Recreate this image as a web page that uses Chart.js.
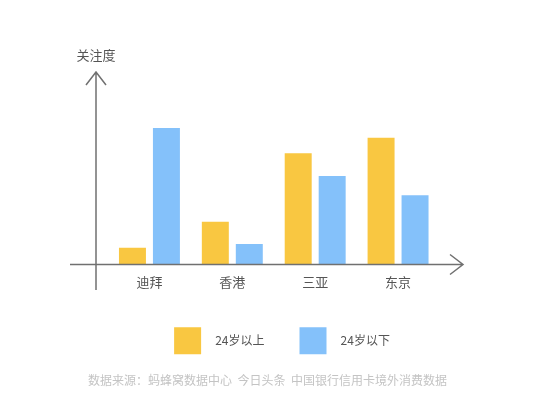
<!DOCTYPE html>
<html>
<head>
<meta charset="utf-8">
<script src="https://cdn.jsdelivr.net/npm/chart.js@4.4.0/dist/chart.umd.min.js"></script>
<style>
  body { margin: 0; background: #fff; }
</style>
</head>
<body>
<canvas id="myChart" width="540" height="400"></canvas>
<script>
// data
const cities = ['迪拜', '香港', '三亚', '东京'];
const over24 = [16.8, 42.8, 111.2, 126.8];
const under24 = [136.5, 20.5, 88.5, 69.2];
const seriesNames = ['24岁以上', '24岁以下'];
const yTitle = '关注度';
const sourceText = '数据来源：蚂蜂窝数据中心  今日头条  中国银行信用卡境外消费数据';

const FONT = '"Noto Sans CJK SC", "Noto Sans", sans-serif';

// arrows, y title and source line
const axisArrows = {
    id: 'axisArrows',
    afterDatasetsDraw(chart) {
        const ctx = chart.ctx;
        const area = chart.chartArea;
        const yX = area.left - 12;
        const base = area.bottom;
        const top = area.top;
        const xEnd = area.right + 23.5;

        ctx.save();
        ctx.strokeStyle = '#707070';
        ctx.lineWidth = 1.5;

        // x axis
        ctx.beginPath();
        ctx.moveTo(area.left - 38, base);
        ctx.lineTo(xEnd, base);
        ctx.moveTo(xEnd - 13, base - 10);
        ctx.lineTo(xEnd, base);
        ctx.lineTo(xEnd - 13, base + 10);
        ctx.stroke();

        // y axis
        ctx.beginPath();
        ctx.moveTo(yX, base + 25.5);
        ctx.lineTo(yX, top);
        ctx.moveTo(yX - 10, top + 13);
        ctx.lineTo(yX, top);
        ctx.lineTo(yX + 10, top + 13);
        ctx.stroke();

        ctx.fillStyle = '#555';
        ctx.font = '13px ' + FONT;
        ctx.textAlign = 'center';
        ctx.textBaseline = 'middle';
        ctx.fillText(yTitle, yX, top - 17);

        ctx.fillStyle = '#c4c4c4';
        ctx.font = '12px ' + FONT;
        ctx.fillText(sourceText, 267.5, 380);
        ctx.restore();
    }
};

const ctx = document.getElementById('myChart').getContext('2d');
window.myChart = new Chart(ctx, {
    type: 'bar',
    data: {
        labels: cities,
        datasets: [{
            label: seriesNames[0],
            data: over24,
            backgroundColor: '#F9C741'
        }, {
            label: seriesNames[1],
            data: under24,
            backgroundColor: '#84C1FA'
        }]
    },
    options: {
        responsive: false,
        animation: false,
        categoryPercentage: 0.82,
        barPercentage: 0.794,
        layout: {
            padding: { left: 108, right: 84, top: 72, bottom: 35.7 }
        },
        scales: {
            x: {
                grid: { display: false, drawTicks: false },
                border: { display: false },
                ticks: {
                    color: '#555',
                    padding: 10.2,
                    font: { family: FONT, size: 13 }
                },
                afterFit(scale) { scale.height = 27.8; }
            },
            y: {
                position: 'right',
                min: 0,
                max: 192.5,
                grid: { display: false, drawTicks: false },
                border: { display: false },
                ticks: { display: false },
                afterFit(scale) { scale.width = 16.5; }
            }
        },
        plugins: {
            tooltip: { enabled: false },
            legend: {
                position: 'bottom',
                labels: {
                    boxWidth: 27,
                    boxHeight: 27,
                    padding: 35,
                    color: '#555',
                    font: { family: FONT, size: 12 },
                    generateLabels(chart) {
                        const items = Chart.defaults.plugins.legend.labels.generateLabels(chart);
                        items.forEach(item => {
                            item.text = '   ' + item.text;
                            item.lineWidth = 0;
                        });
                        return items;
                    }
                }
            }
        }
    },
    plugins: [axisArrows]
});
</script>
</body>
</html>
